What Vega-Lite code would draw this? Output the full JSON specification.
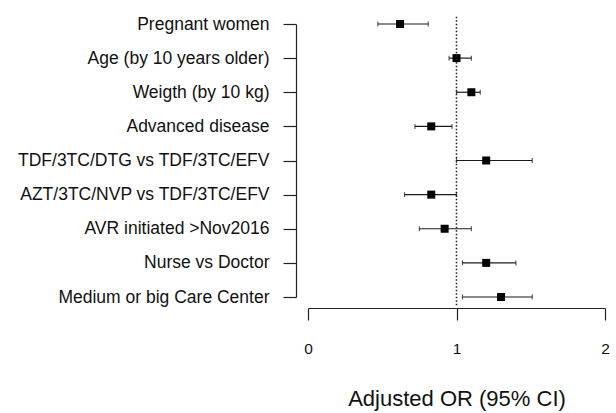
{
  "$schema": "https://vega.github.io/schema/vega-lite/v6.json",
  "autosize": "none",
  "width": 297,
  "height": 273,
  "padding": {"left": 308, "top": 24, "right": 11, "bottom": 116},
  "background": "white",
  "config": {
    "view": {"stroke": null},
    "font": "Liberation Sans",
    "axis": {"grid": false, "domainColor": "#222", "tickColor": "#222", "labelColor": "#111", "titleColor": "#111", "labelFont": "Liberation Sans", "titleFont": "Liberation Sans", "titleFontWeight": "normal"}
  },
  "data": {"values": [
    {"label": "Pregnant women", "or": 0.62, "lo": 0.47, "hi": 0.81},
    {"label": "Age (by 10 years older)", "or": 1.00, "lo": 0.95, "hi": 1.10},
    {"label": "Weigth (by 10 kg)", "or": 1.10, "lo": 1.00, "hi": 1.16},
    {"label": "Advanced disease", "or": 0.83, "lo": 0.72, "hi": 0.97},
    {"label": "TDF/3TC/DTG vs TDF/3TC/EFV", "or": 1.20, "lo": 1.00, "hi": 1.51},
    {"label": "AZT/3TC/NVP vs TDF/3TC/EFV", "or": 0.83, "lo": 0.65, "hi": 1.00},
    {"label": "AVR initiated >Nov2016", "or": 0.92, "lo": 0.75, "hi": 1.10},
    {"label": "Nurse vs Doctor", "or": 1.20, "lo": 1.04, "hi": 1.40},
    {"label": "Medium or big Care Center", "or": 1.30, "lo": 1.04, "hi": 1.51}
  ]},
  "layer": [
    {
      "layer": [
        {
          "mark": {"type": "rule", "color": "#1a1a1a", "strokeWidth": 1.2},
          "encoding": {
            "x": {"field": "lo", "type": "quantitative", "scale": {"domain": [0, 2], "nice": false, "zero": false},
              "axis": {"title": "Adjusted OR (95% CI)", "values": [0, 1, 2], "format": ".0f", "labelFlush": false, "offset": 11, "tickSize": 12, "labelPadding": 21, "labelFontSize": 15.5, "titleFontSize": 22, "titlePadding": 32, "domainWidth": 1.2, "tickWidth": 1.2}},
            "x2": {"field": "hi"},
            "y": {"field": "label", "type": "nominal", "sort": null, "scale": {"type": "point", "padding": 0},
              "axis": {"title": null, "offset": 12, "tickSize": 13, "labelPadding": 14, "labelFontSize": 17.5, "labelLimit": 400, "domainWidth": 1.2, "tickWidth": 1.2}}
          }
        },
        {
          "mark": {"type": "tick", "color": "#1a1a1a", "thickness": 1.2, "size": 5, "orient": "vertical"},
          "encoding": {
            "x": {"field": "lo", "type": "quantitative"},
            "y": {"field": "label", "type": "nominal", "sort": null}
          }
        },
        {
          "mark": {"type": "tick", "color": "#1a1a1a", "thickness": 1.2, "size": 5, "orient": "vertical"},
          "encoding": {
            "x": {"field": "hi", "type": "quantitative"},
            "y": {"field": "label", "type": "nominal", "sort": null}
          }
        },
        {
          "mark": {"type": "point", "shape": "square", "filled": true, "size": 64, "color": "#000", "opacity": 1},
          "encoding": {
            "x": {"field": "or", "type": "quantitative"},
            "y": {"field": "label", "type": "nominal", "sort": null}
          }
        }
      ]
    },
    {
      "data": {"values": [{"ref": 1, "top": 1.027, "bottom": -0.034}]},
      "mark": {"type": "rule", "strokeDash": [1.5, 2], "strokeWidth": 1.6, "color": "#222"},
      "encoding": {
        "x": {"field": "ref", "type": "quantitative"},
        "y": {"field": "top", "type": "quantitative", "scale": {"domain": [0, 1], "nice": false, "zero": false}, "axis": null},
        "y2": {"field": "bottom"}
      }
    }
  ],
  "resolve": {"scale": {"y": "independent"}}
}
